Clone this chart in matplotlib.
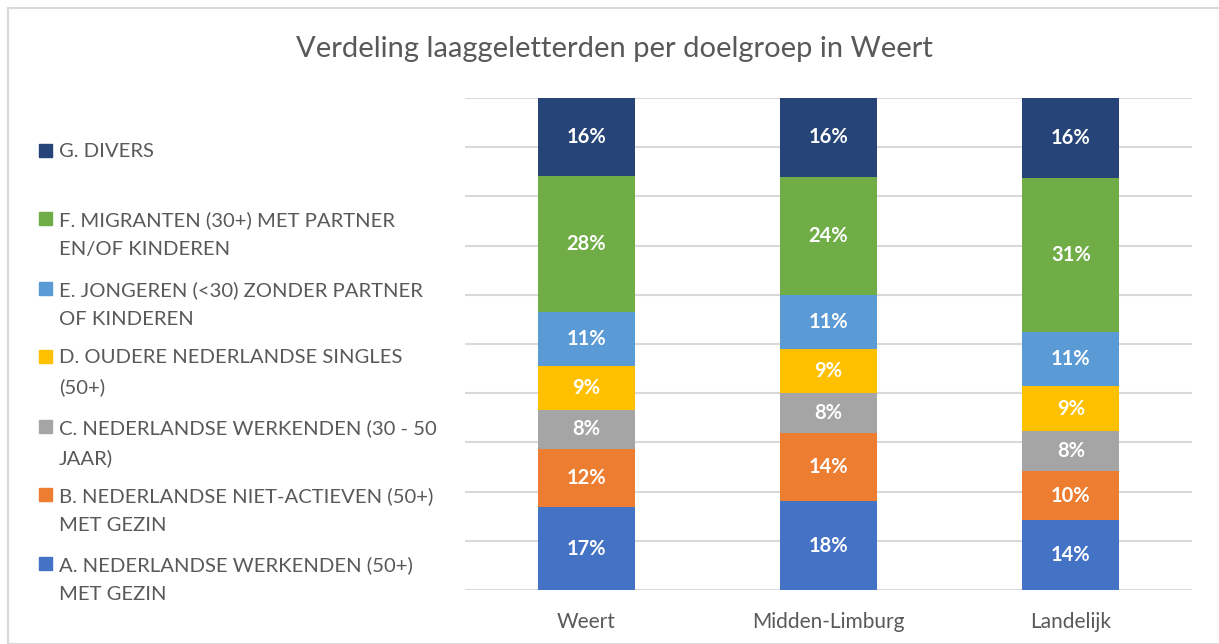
import numpy as np
import matplotlib.pyplot as plt
from matplotlib.patches import Rectangle

# Data (percentages per group, per region)
regions = ['Weert', 'Midden-Limburg', 'Landelijk']
groups = ['A. NEDERLANDSE WERKENDEN (50+)\nMET GEZIN',
          'B. NEDERLANDSE NIET-ACTIEVEN (50+)\nMET GEZIN',
          'C. NEDERLANDSE WERKENDEN (30 - 50\nJAAR)',
          'D. OUDERE NEDERLANDSE SINGLES\n(50+)',
          'E. JONGEREN (<30) ZONDER PARTNER\nOF KINDEREN',
          'F. MIGRANTEN (30+) MET PARTNER\nEN/OF KINDEREN',
          'G. DIVERS']
weert = [17, 12, 8, 9, 11, 28, 16]
midden_limburg = [18, 14, 8, 9, 11, 24, 16]
landelijk = [14, 10, 8, 9, 11, 31, 16]
colors = ['#4472C4', '#ED7D31', '#A5A5A5', '#FFC000', '#5B9BD5', '#70AD47', '#264478']

values = np.array([weert, midden_limburg, landelijk], dtype=float)
shares = values / values.sum(axis=1, keepdims=True) * 100  # 100% stacked

plt.rcParams['font.family'] = ['Lato', 'DejaVu Sans']

fig = plt.figure(figsize=(12.19, 6.44), dpi=100)

# chart frame
fig.patches.append(Rectangle((8 / 1219, 0), 1.0, 1 - 8 / 644, transform=fig.transFigure,
                             fill=False, edgecolor='#d9d9d9', lw=1.5))

ax = fig.add_axes([465 / 1219, 1 - 590 / 644, 727 / 1219, 492 / 644])

x = np.arange(len(regions))
bottom = np.zeros(len(regions))
for i, g in enumerate(groups):
    ax.bar(x, shares[:, i], 0.4, bottom=bottom, color=colors[i], zorder=3)
    for j in range(len(regions)):
        ax.text(x[j], bottom[j] + shares[j, i] / 2, f'{int(values[j, i])}%',
                ha='center', va='center', color='white', fontsize=14.5, fontweight='bold', zorder=4)
    bottom += shares[:, i]

ax.set_xlim(-0.5, 2.5)
ax.set_ylim(0, 100)
ax.set_yticks(np.arange(0, 101, 10))
ax.yaxis.grid(True, color='#d9d9d9', lw=1.5, zorder=0)
ax.tick_params(left=False, bottom=False, labelleft=False)
ax.set_xticks(x)
ax.set_xticklabels(regions, fontsize=15, color='#595959')
ax.tick_params(axis='x', pad=12)
for s in ax.spines.values():
    s.set_visible(False)

fig.text(614 / 1219, 1 - 49 / 644, 'Verdeling laaggeletterden per doelgroep in Weert',
         ha='center', va='center', fontsize=21, color='#595959')

# legend, top to bottom
legend_y = [150, 218, 288, 356, 426, 494, 563]
for k, i in enumerate(range(len(groups) - 1, -1, -1)):
    y = legend_y[k]
    fig.patches.append(Rectangle((39 / 1219, 1 - (y + 7) / 644), 13 / 1219, 13 / 644,
                                 transform=fig.transFigure, color=colors[i]))
    fig.text(59 / 1219, 1 - (y - 7) / 644, groups[i], ha='left', va='top',
             fontsize=14.6, color='#595959', linespacing=1.85)

fig.savefig('out.png', dpi=100)
